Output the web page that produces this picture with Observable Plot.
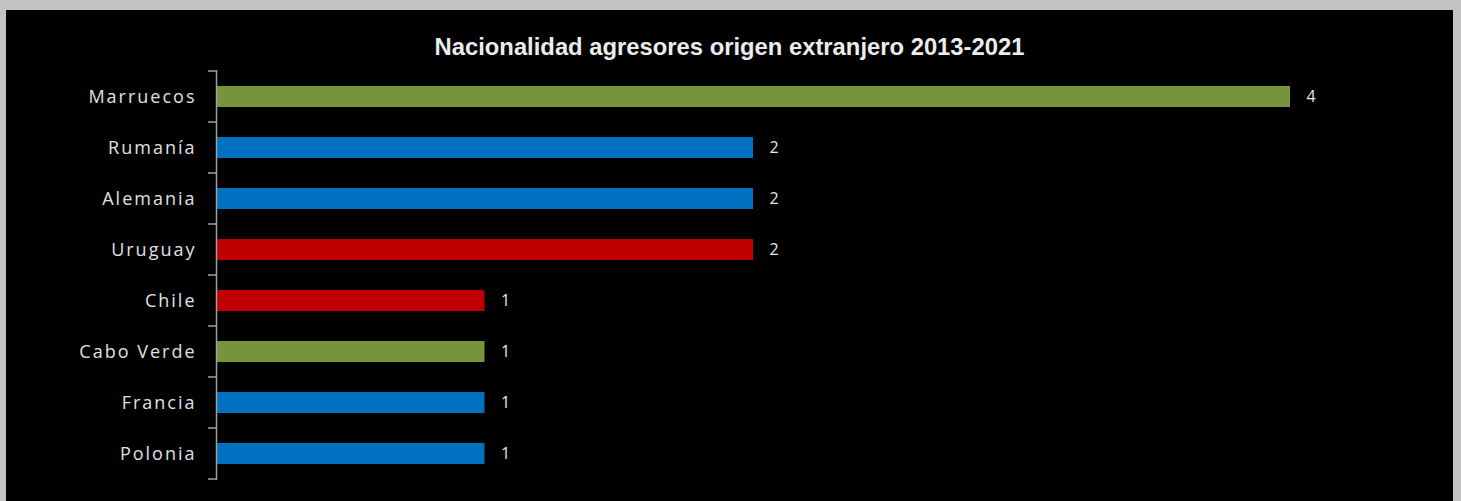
<!DOCTYPE html>
<html><head><meta charset="utf-8">
<script src="https://cdn.jsdelivr.net/npm/d3@7"></script>
<script src="https://cdn.jsdelivr.net/npm/@observablehq/plot@0.6"></script>
<style>
html,body{margin:0;padding:0;background:#c3c3c3;width:1461px;height:501px;overflow:hidden;}
#frame{position:absolute;left:6px;top:10px;width:1447px;height:491px;background:#000;overflow:hidden;}
#title{height:25px;padding-top:25px;line-height:24px;text-align:center;color:#ececec;font-family:"Liberation Sans Narrow","Liberation Sans",sans-serif;font-weight:bold;font-size:23.8px;}
#chart svg{display:block;}
#chart svg g[aria-label="y-axis tick label"] text{letter-spacing:2px;font-size:18px;}
</style>
</head><body>
<div id="frame">
  <div id="title">Nacionalidad agresores origen extranjero 2013-2021</div>
  <div id="chart"></div>
</div>
<script>
const countries = ["Marruecos","Rumanía","Alemania","Uruguay","Chile","Cabo Verde","Francia","Polonia"];
const values = [4,2,2,2,1,1,1,1];
const regions = ["África","Europa","Europa","América","América","África","Europa","Europa"];
const regionNames = ["África","Europa","América"];
const regionColors = ["#77933c","#0070c0","#c00000"];

const data = countries.map((c,i)=>({country:c, value:values[i], region:regions[i]}));

function boundaryTicks(index, scales, values, dimensions) {
  const y = scales.y, x = scales.x;
  const step = typeof y.step === "function" ? y.step() : 51.25;
  const bw = typeof y.bandwidth === "function" ? y.bandwidth() : step*0.41;
  const off = (step - bw)/2;
  const x0 = x(0);
  const bounds = countries.map(c => y(c) - off);
  bounds.push(y(countries[countries.length-1]) + bw + off);
  const g = d3.create("svg:g").attr("stroke","#a0a0a0").attr("stroke-width",1.5);
  g.selectAll("line").data(bounds).join("line")
    .attr("x1", x0 - 8).attr("x2", x0)
    .attr("y1", d=>d).attr("y2", d=>d);
  return g.node();
}

const plot = Plot.plot({
  width: 1447, height: 441,
  marginTop: 10, marginBottom: 21, marginLeft: 210, marginRight: 163,
  style: {background: "transparent", color: "#e0e0e0", overflow: "visible"},
  x: {domain: [0,4], axis: null},
  y: {domain: countries, paddingInner: 0.59, paddingOuter: 0.295, align: 0.5, axis: null},
  color: {domain: regionNames, range: regionColors},
  marks: [
    Plot.barX(data, {x: "value", y: "country", fill: "region"}),
    Plot.text(data, {x: "value", y: "country", text: d => String(d.value), textAnchor: "start", dx: 16, fill: "#e6e6e6", fontSize: 16, fontFamily: "Open Sans"}),
    Plot.axisY({tickSize: 0, tickPadding: 20, fontSize: 18, fill: "#e0e0e0", fontFamily: "Open Sans", label: null}),
    Plot.ruleX([0], {stroke: "#a0a0a0", strokeWidth: 1.5}),
    boundaryTicks
  ]
});
document.getElementById("chart").appendChild(plot);
</script>
</body></html>
